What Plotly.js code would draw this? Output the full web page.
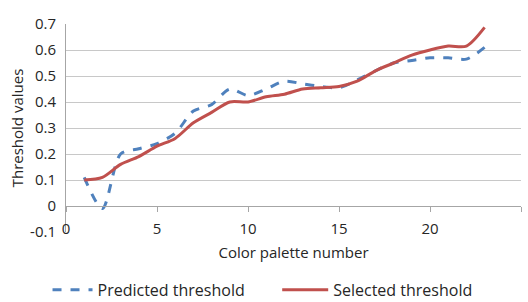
<!DOCTYPE html>
<html><head><meta charset="utf-8">
<script src="https://cdn.plot.ly/plotly-3.0.1.min.js"></script>
<style>html,body{margin:0;padding:0;background:#fff}#c{width:528px;height:302px}</style>
</head><body><div id="c"></div>
<script>
const paletteNumber = [1,2,3,4,5,6,7,8,9,10,11,12,13,14,15,16,17,18,19,20,21,22,23];
const predictedThreshold = [0.11,-0.01,0.20,0.22,0.24,0.28,0.365,0.39,0.45,0.425,0.45,0.48,0.47,0.46,0.455,0.485,0.52,0.55,0.56,0.57,0.57,0.565,0.61];
const selectedThreshold = [0.10,0.11,0.16,0.19,0.23,0.26,0.32,0.36,0.40,0.40,0.42,0.43,0.45,0.455,0.46,0.48,0.52,0.55,0.58,0.60,0.615,0.615,0.687];
const xTicks = [0,5,10,15,20,25];
const yTicks = [-0.1,0,0.1,0.2,0.3,0.4,0.5,0.6,0.7];

const fam = '"Open Sans", "Liberation Sans", sans-serif';
const font = {family:fam, size:15, color:'#262626'};
const legFont = {family:fam, size:16, color:'#262626'};
const traces = [
  {x:paletteNumber, y:predictedThreshold, name:'Predicted threshold', mode:'lines', legend:'legend',
   line:{color:'#4f81bd', width:3, dash:'dash', shape:'spline', smoothing:0.8}},
  {x:paletteNumber, y:selectedThreshold, name:'Selected threshold', mode:'lines', legend:'legend2',
   line:{color:'#c0504d', width:3, shape:'spline', smoothing:0.8}}
];
const layout = {
  width:528, height:302, font:font, paper_bgcolor:'#fff', plot_bgcolor:'#fff',
  margin:{l:66, r:7, t:24, b:70, pad:0},
  showlegend:true,
  legend:{orientation:'h', xref:'container', x:0.09, xanchor:'left', yref:'container', y:0.04, yanchor:'middle',
    font:legFont, itemwidth:40, bgcolor:'rgba(0,0,0,0)'},
  legend2:{orientation:'h', xref:'container', x:0.525, xanchor:'left', yref:'container', y:0.04, yanchor:'middle',
    font:legFont, itemwidth:46, bgcolor:'rgba(0,0,0,0)'},
  xaxis:{range:[0,25], tickvals:xTicks, ticktext:xTicks.map(String), showgrid:false, zeroline:false,
    showline:true, linecolor:'#a6a6a6', linewidth:1, ticks:'outside', ticklen:5, tickcolor:'#a6a6a6',
    anchor:'free', position:0.125, tickfont:font, automargin:false, ticklabelstandoff:4,
    title:{text:'Color palette number', font:font, standoff:10}},
  yaxis:{range:[-0.1,0.7], tickvals:yTicks, ticktext:yTicks.map(v=>String(v)), showgrid:true, gridcolor:'#c8c8c8', gridwidth:1,
    zeroline:false, showline:true, linecolor:'#a6a6a6', linewidth:1, ticks:'', tickfont:font, automargin:false,
    ticklabelstandoff:6,
    title:{text:'Threshold values', font:font, standoff:2}}
};
Plotly.newPlot('c', traces, layout, {displayModeBar:false, staticPlot:true});
</script></body></html>
